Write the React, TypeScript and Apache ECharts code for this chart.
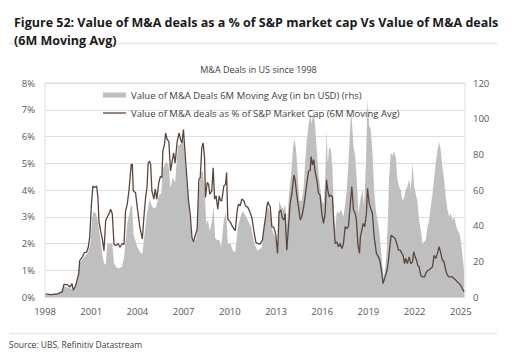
import React, { useEffect, useRef } from "react";
import * as echarts from "echarts";

// Value of M&A deals as % of S&P market cap (6M moving avg), lhs
const lineYears = [
  1998.04, 1998.37, 1998.8, 1999.12, 1999.23, 1999.45, 1999.62, 1999.75, 1999.84, 1999.99,
  2000.1, 2000.19, 2000.25, 2000.42, 2000.57, 2000.7, 2000.81, 2000.9, 2001.03, 2001.11,
  2001.22, 2001.35, 2001.44, 2001.5, 2001.61, 2001.72, 2001.83, 2001.94, 2002.05, 2002.15,
  2002.26, 2002.37, 2002.48, 2002.59, 2002.74, 2002.87, 2003.02, 2003.13, 2003.23, 2003.34,
  2003.45, 2003.6, 2003.67, 2003.73, 2003.88, 2003.99, 2004.16, 2004.32, 2004.42, 2004.53,
  2004.62, 2004.7, 2004.78, 2004.86, 2004.94, 2005.07, 2005.16, 2005.26, 2005.39, 2005.5,
  2005.59, 2005.65, 2005.76, 2005.83, 2005.93, 2006.04, 2006.15, 2006.26, 2006.35, 2006.45,
  2006.58, 2006.71, 2006.8, 2006.89, 2006.99, 2007.1, 2007.21, 2007.32, 2007.43, 2007.54,
  2007.64, 2007.75, 2007.88, 2007.99, 2008.08, 2008.18, 2008.27, 2008.36, 2008.42, 2008.53,
  2008.62, 2008.7, 2008.83, 2008.92, 2009.01, 2009.11, 2009.22, 2009.31, 2009.4, 2009.48,
  2009.61, 2009.72, 2009.79, 2009.87, 2010.04, 2010.2, 2010.35, 2010.48, 2010.56, 2010.67,
  2010.78, 2010.91, 2011.02, 2011.17, 2011.28, 2011.43, 2011.56, 2011.69, 2011.82, 2011.97,
  2012.12, 2012.23, 2012.34, 2012.4, 2012.47, 2012.55, 2012.62, 2012.73, 2012.86, 2012.99,
  2013.1, 2013.2, 2013.31, 2013.42, 2013.53, 2013.59, 2013.7, 2013.81, 2013.92, 2014.03,
  2014.16, 2014.24, 2014.35, 2014.46, 2014.57, 2014.67, 2014.78, 2014.89, 2015.0, 2015.11,
  2015.22, 2015.28, 2015.37, 2015.45, 2015.54, 2015.65, 2015.76, 2015.86, 2015.97, 2016.08,
  2016.19, 2016.28, 2016.36, 2016.45, 2016.56, 2016.66, 2016.75, 2016.84, 2016.95, 2017.05,
  2017.16, 2017.27, 2017.38, 2017.49, 2017.59, 2017.7, 2017.81, 2017.92, 2018.03, 2018.14,
  2018.22, 2018.32, 2018.42, 2018.48, 2018.57, 2018.66, 2018.76, 2018.87, 2018.94, 2019.05,
  2019.15, 2019.26, 2019.37, 2019.52, 2019.65, 2019.74, 2019.87, 2019.95, 2020.08, 2020.21,
  2020.3, 2020.39, 2020.47, 2020.6, 2020.73, 2020.84, 2020.95, 2021.06, 2021.17, 2021.25,
  2021.34, 2021.42, 2021.53, 2021.64, 2021.75, 2021.86, 2021.94, 2022.03, 2022.12, 2022.2,
  2022.29, 2022.4, 2022.51, 2022.64, 2022.72, 2022.83, 2022.98, 2023.16, 2023.26, 2023.37,
  2023.48, 2023.59, 2023.7, 2023.8, 2023.91, 2024.02, 2024.13, 2024.24, 2024.35, 2024.45,
  2024.56, 2024.67, 2024.78, 2024.89, 2024.99, 2025.1, 2025.21,
];
const lineValues = [
  0.12, 0.09, 0.12, 0.19, 0.47, 0.46, 0.37, 0.5, 0.25, 0.43,
  0.68, 0.87, 1.36, 1.49, 1.67, 1.67, 1.86, 2.23, 3.6, 4.15,
  4.09, 4.15, 3.7, 2.85, 2.48, 2.17, 1.73, 2.85, 3.0, 3.1,
  3.28, 3.1, 1.98, 1.92, 2.0, 1.86, 2.0, 1.96, 3.22, 3.47,
  3.97, 4.96, 4.96, 3.97, 3.9, 3.35, 2.6, 2.17, 2.97, 3.72,
  4.09, 5.0, 5.08, 4.95, 3.97, 3.66, 4.03, 3.66, 4.28, 4.52,
  4.46, 5.45, 5.7, 6.13, 5.89, 5.82, 4.71, 5.08, 5.39, 5.0,
  5.82, 6.13, 5.89, 5.76, 6.26, 5.33, 4.46, 3.6, 3.1, 2.23,
  2.04, 2.29, 2.54, 4.4, 4.46, 5.58, 5.76, 5.2, 3.72, 4.28,
  4.21, 3.84, 3.97, 4.83, 3.66, 3.78, 3.28, 3.78, 3.6, 3.6,
  4.15, 4.21, 4.65, 2.91, 2.79, 2.6, 2.48, 3.22, 3.47, 3.41,
  3.66, 3.6, 3.41, 3.35, 3.22, 2.97, 2.48, 2.04, 2.0, 1.98,
  2.13, 2.63, 3.06, 3.38, 3.56, 3.44, 3.38, 2.63, 2.6, 2.31,
  1.63, 3.19, 3.25, 2.94, 2.88, 3.13, 1.75, 2.63, 3.5, 3.88,
  4.56, 4.38, 3.81, 3.38, 2.88, 3.0, 3.31, 3.75, 4.25, 4.69,
  4.75, 5.25, 4.94, 5.13, 4.69, 4.38, 3.88, 3.81, 3.13, 2.75,
  3.13, 4.38, 4.0, 3.75, 3.81, 3.75, 2.75, 2.0, 2.06, 1.88,
  2.0, 1.81, 2.0, 2.63, 2.56, 2.63, 3.38, 4.13, 3.25, 3.13,
  2.88, 1.95, 1.63, 2.25, 2.5, 2.75, 2.63, 3.13, 4.06, 3.5,
  3.31, 3.13, 2.25, 1.63, 1.5, 1.38, 0.88, 0.5, 0.75, 1.0,
  1.38, 1.88, 2.31, 2.25, 2.19, 2.0, 1.75, 1.75, 1.63, 1.56,
  1.25, 1.44, 1.25, 1.5, 1.25, 1.31, 1.69, 1.5, 1.38, 1.19,
  1.13, 0.81, 0.75, 0.75, 0.88, 0.98, 1.03, 1.13, 1.56, 1.44,
  1.63, 1.88, 1.63, 1.38, 1.31, 1.0, 0.81, 0.75, 0.75, 0.75,
  0.69, 0.63, 0.56, 0.5, 0.44, 0.31, 0.19,
];

// Value of M&A deals 6M moving avg (bn USD), rhs
const areaYears = [
  1998.0, 1998.5, 1999.0, 1999.25, 1999.6, 1999.85, 2000.1, 2000.25, 2000.42, 2000.6,
  2000.8, 2000.95, 2001.05, 2001.15, 2001.3, 2001.45, 2001.55, 2001.72, 2001.83, 2001.94,
  2002.05, 2002.2, 2002.37, 2002.48, 2002.6, 2002.8, 2003.0, 2003.13, 2003.34, 2003.55,
  2003.65, 2003.75, 2003.99, 2004.2, 2004.32, 2004.42, 2004.64, 2004.8, 2004.9, 2005.0,
  2005.2, 2005.4, 2005.55, 2005.65, 2005.87, 2006.02, 2006.15, 2006.3, 2006.45, 2006.63,
  2006.84, 2006.95, 2007.1, 2007.23, 2007.38, 2007.54, 2007.67, 2007.82, 2007.97, 2008.1,
  2008.25, 2008.36, 2008.47, 2008.57, 2008.7, 2008.83, 2008.94, 2009.05, 2009.18, 2009.31,
  2009.44, 2009.61, 2009.76, 2009.87, 2010.04, 2010.2, 2010.35, 2010.52, 2010.69, 2010.84,
  2011.0, 2011.17, 2011.39, 2011.56, 2011.69, 2011.8, 2011.97, 2012.08, 2012.3, 2012.47,
  2012.62, 2012.77, 2012.99, 2013.12, 2013.2, 2013.33, 2013.48, 2013.59, 2013.7, 2013.85,
  2013.98, 2014.11, 2014.2, 2014.31, 2014.42, 2014.52, 2014.67, 2014.78, 2014.89, 2015.0,
  2015.11, 2015.22, 2015.32, 2015.43, 2015.54, 2015.65, 2015.76, 2015.86, 2015.97, 2016.1,
  2016.19, 2016.28, 2016.36, 2016.45, 2016.56, 2016.66, 2016.75, 2016.84, 2016.95, 2017.1,
  2017.23, 2017.38, 2017.49, 2017.59, 2017.7, 2017.81, 2017.88, 2018.03, 2018.14, 2018.24,
  2018.35, 2018.5, 2018.61, 2018.72, 2018.83, 2018.94, 2019.05, 2019.15, 2019.26, 2019.37,
  2019.48, 2019.59, 2019.7, 2019.8, 2019.91, 2020.0, 2020.08, 2020.17, 2020.26, 2020.34,
  2020.45, 2020.56, 2020.67, 2020.78, 2020.88, 2020.99, 2021.1, 2021.21, 2021.32, 2021.42,
  2021.53, 2021.64, 2021.75, 2021.86, 2021.97, 2022.07, 2022.18, 2022.29, 2022.4, 2022.51,
  2022.62, 2022.72, 2022.83, 2022.94, 2023.05, 2023.16, 2023.26, 2023.37, 2023.48, 2023.59,
  2023.7, 2023.8, 2023.91, 2024.02, 2024.13, 2024.24, 2024.35, 2024.45, 2024.56, 2024.67,
  2024.78, 2024.89, 2024.99, 2025.1, 2025.21,
];
const areaValues = [
  1, 1.5, 2.5, 6, 5, 4, 9, 19, 21, 23,
  25, 30, 44, 48, 47, 42, 35, 24, 19, 18,
  30, 30, 30, 19, 17, 16, 17, 22, 41, 50,
  52, 35, 28, 25, 24, 32, 48, 55, 52, 50,
  50, 57, 58, 72, 76, 74, 61, 67, 64, 85,
  86, 91, 76, 61, 48, 31, 30, 33, 56, 69,
  71, 61, 41, 43, 37, 42, 51, 33, 32, 32,
  28, 43, 48, 30, 30, 26, 25, 39, 45, 48,
  46, 43, 39, 31, 28, 26, 27, 28, 43, 51,
  47, 37, 33, 24, 54, 51, 49, 52, 39, 58,
  69, 84, 89, 82, 67, 54, 54, 60, 75, 88,
  96, 103, 97, 105, 96, 82, 69, 62, 54, 52,
  66, 93, 75, 84, 83, 73, 49, 38, 48, 47,
  49, 45, 52, 60, 75, 94, 105, 84, 79, 66,
  47, 56, 60, 51, 73, 111, 96, 94, 81, 60,
  49, 43, 37.5, 28, 17, 11, 15, 24, 43, 66,
  81, 79, 82, 78, 66, 62, 60, 54, 56, 60,
  62, 66, 60, 75, 62, 58, 54, 43, 37.5, 30,
  31, 32, 39, 43, 51, 58, 66, 75, 82, 87,
  82, 73, 66, 56, 49, 45, 47, 43, 45, 41,
  37.5, 36, 32, 24, 15,
];

const xTickYears = [1998, 2001, 2004, 2007, 2010, 2013, 2016, 2019, 2022, 2025];

const titleText =
  "Figure 52: Value of M&A deals as a % of S&P market cap Vs Value of M&A deals\n(6M Moving Avg)";
const subtitleText = "M&A Deals in US since 1998";
const areaName = "Value of M&A Deals 6M Moving Avg (in bn USD) (rhs)";
const lineName = "Value of M&A deals as % of S&P Market Cap (6M Moving Avg)";
const sourceText = "Source: UBS, Refinitiv Datastream";

const FONT = "'Open Sans', 'Noto Sans', sans-serif";
const LINE_COLOR = "#5a463c";
const AREA_COLOR = "#bfbfbf";

export default function App() {
  const ref = useRef<HTMLDivElement>(null);

  useEffect(() => {
    if (!ref.current) return;
    const chart = echarts.init(ref.current, undefined, { renderer: "svg" });
    const areaData = areaYears.map((y, i) => [y, areaValues[i]]);
    const lineData = lineYears.map((y, i) => [y, lineValues[i]]);

    chart.setOption({
      animation: false,
      backgroundColor: "#ffffff",
      textStyle: { fontFamily: FONT },
      title: [
        {
          text: titleText,
          left: 9,
          top: 8,
          textStyle: {
            fontFamily: FONT,
            fontSize: 12.5,
            fontWeight: "bold",
            color: "#1a1a1a",
            lineHeight: 18,
          },
        },
        {
          text: subtitleText,
          left: "center",
          top: 60,
          textStyle: {
            fontFamily: FONT,
            fontSize: 9,
            fontWeight: "normal",
            color: "#404040",
          },
        },
      ],
      legend: {
        orient: "vertical",
        left: 98,
        top: 85,
        itemWidth: 23,
        itemHeight: 5,
        itemGap: 8,
        symbolKeepAspect: true,
        textStyle: { fontFamily: FONT, fontSize: 9.5, color: "#404040" },
        data: [
          { name: areaName, icon: "rect", itemStyle: { color: AREA_COLOR } },
          {
            name: lineName,
            icon: "path://M0,0 L23,0 L23,1.3 L0,1.3 Z",
            itemStyle: { color: LINE_COLOR },
          },
        ],
      },
      grid: {
        left: 45,
        right: 52,
        top: 83,
        bottom: 65,
        show: true,
        borderColor: "#dedede",
        borderWidth: 1,
        backgroundColor: "transparent",
      },
      xAxis: {
        type: "value",
        min: 1998,
        max: 2025.27,
        interval: 3,
        axisLine: { show: false },
        axisTick: { show: false },
        splitLine: { show: false },
        axisLabel: {
          fontFamily: FONT,
          fontSize: 9.5,
          color: "#595959",
          margin: 9,
          formatter: (v: number) => {
            const r = Math.round(v);
            return Math.abs(v - r) < 1e-6 && xTickYears.includes(r) ? String(r) : "";
          },
        },
      },
      yAxis: [
        {
          type: "value",
          min: 0,
          max: 8,
          interval: 1,
          axisLine: { show: false },
          axisTick: { show: false },
          splitLine: { show: true, lineStyle: { color: "#dedede", width: 1 } },
          axisLabel: {
            fontFamily: FONT,
            fontSize: 9.5,
            color: "#595959",
            margin: 10,
            formatter: "{value}%",
          },
        },
        {
          type: "value",
          min: 0,
          max: 120,
          interval: 20,
          axisLine: { show: false },
          axisTick: { show: false },
          splitLine: { show: false },
          axisLabel: {
            fontFamily: FONT,
            fontSize: 9.5,
            color: "#595959",
            margin: 8,
          },
        },
      ],
      series: [
        {
          name: areaName,
          type: "line",
          yAxisIndex: 1,
          data: areaData,
          symbol: "none",
          lineStyle: { width: 0, color: AREA_COLOR },
          itemStyle: { color: AREA_COLOR },
          areaStyle: { color: AREA_COLOR, opacity: 1 },
          z: 1,
        },
        {
          name: lineName,
          type: "line",
          yAxisIndex: 0,
          data: lineData,
          symbol: "none",
          lineStyle: { width: 1.3, color: LINE_COLOR },
          itemStyle: { color: LINE_COLOR },
          z: 3,
        },
      ],
      graphic: [
        {
          type: "line",
          shape: { x1: 9, y1: 43.5, x2: 497, y2: 43.5 },
          style: { stroke: "#e6e6e6", lineWidth: 1.5 },
        },
        {
          type: "line",
          shape: { x1: 9, y1: 333.5, x2: 497, y2: 333.5 },
          style: { stroke: "#e6e6e6", lineWidth: 1.5 },
        },
        {
          type: "text",
          left: 9,
          top: 340,
          style: {
            text: sourceText,
            fontFamily: FONT,
            fontSize: 8.5,
            fill: "#404040",
          },
        },
      ],
    });

    return () => chart.dispose();
  }, []);

  return (
    <div
      ref={ref}
      style={{ position: "fixed", left: 0, top: 0, width: 517, height: 362, background: "#fff" }}
    />
  );
}
